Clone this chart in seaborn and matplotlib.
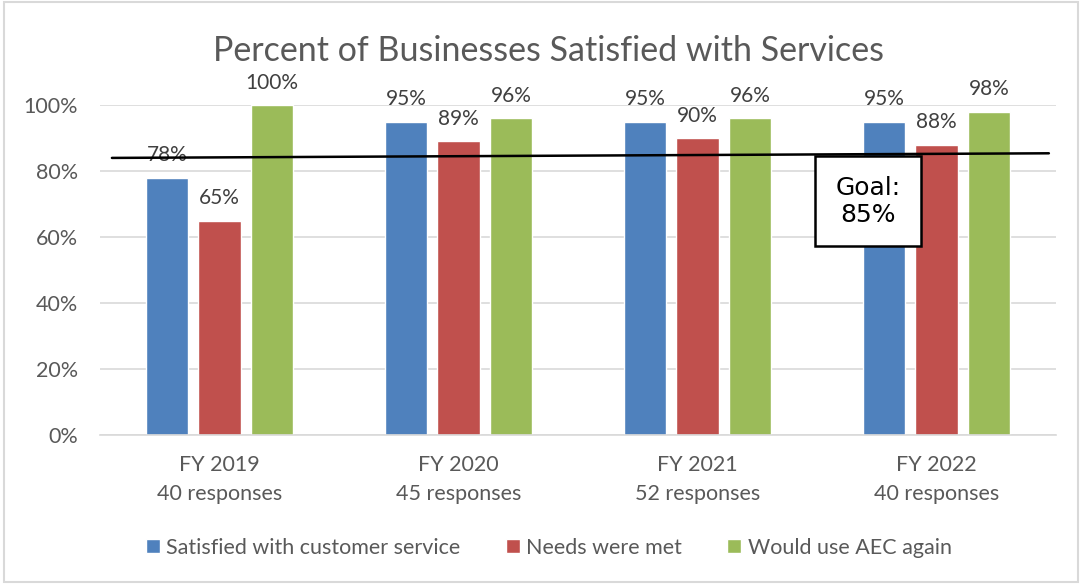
import matplotlib
matplotlib.use("Agg")
import matplotlib.pyplot as plt
import seaborn as sns
import pandas as pd
from matplotlib.patches import Rectangle

years = ["FY 2019\n40 responses", "FY 2020\n45 responses", "FY 2021\n52 responses", "FY 2022\n40 responses"]
series = ["Satisfied with customer service", "Needs were met", "Would use AEC again"]
satisfied = [78, 95, 95, 95]
needs_met = [65, 89, 90, 88]
use_again = [100, 96, 96, 98]
goal_line = [84.0, 85.4]   # drawn goal line, left and right ends (%)
goal_label = "Goal:\n85%"

colors = ["#4F81BD", "#C0504D", "#9BBB59"]

rows = []
for s, vals in zip(series, [satisfied, needs_met, use_again]):
    for y, v in zip(years, vals):
        rows.append({"Year": y, "Series": s, "Value": v / 100})
df = pd.DataFrame(rows)

sns.set_theme(style="white")
plt.rcParams['font.family'] = ['Lato', 'DejaVu Sans']

fig = plt.figure(figsize=(10.82, 5.84), dpi=100)
ax = fig.add_axes([0.0924, 0.255, 0.8836, 0.565])

sns.barplot(data=df, x="Year", y="Value", hue="Series", palette=colors,
            width=0.66, gap=0.2, ax=ax, legend=True, saturation=1)

for cont in ax.containers:
    ax.bar_label(cont, labels=[f"{v*100:.0f}%" for v in cont.datavalues],
                 padding=9, fontsize=15, color="#404040")

ax.set_ylim(0, 1.0)
ax.set_xlim(-0.5, 3.5)
ax.set_yticks([0, 0.2, 0.4, 0.6, 0.8, 1.0])
ax.set_yticklabels(["0%", "20%", "40%", "60%", "80%", "100%"], fontsize=15.5, color="#595959")
ax.tick_params(axis="x", labelsize=15.5, labelcolor="#595959", length=0, pad=14)
ax.tick_params(axis="y", length=0, pad=16)
for lbl in ax.get_xticklabels():
    lbl.set_linespacing(1.6)
ax.grid(axis="y", color="#D9D9D9", linewidth=1.2)
ax.set_axisbelow(True)
for sp in ["top", "right", "left"]:
    ax.spines[sp].set_visible(False)
ax.spines["bottom"].set_color("#D9D9D9")
ax.spines["bottom"].set_linewidth(1.2)
ax.set_xlabel("")
ax.set_ylabel("")

# goal line
ax.plot([-0.45, 3.47], [goal_line[0] / 100, goal_line[1] / 100], color="black", lw=1.8,
        clip_on=False, zorder=5)
# goal annotation box
ax.add_patch(Rectangle((2.49, 0.573), 0.445, 0.272, fc="white", ec="black", lw=1.8, zorder=6))
ax.text(2.7125, 0.709, goal_label, ha="center", va="center", fontsize=18, color="black",
        linespacing=1.15, zorder=7, family=['DejaVu Sans'])

fig.text(0.507, 0.913, "Percent of Businesses Satisfied with Services", fontsize=24.5,
         color="#595959", ha="center", va="center")

leg = ax.legend(loc="center", bbox_to_anchor=(0.507, 0.062), bbox_transform=fig.transFigure,
                ncol=3, frameon=False,
                fontsize=15.5, handlelength=0.65, handleheight=0.65, handletextpad=0.3,
                columnspacing=2.1)
for t in leg.get_texts():
    t.set_color("#595959")

# chart border
fig.patches.append(Rectangle((0.004, 0.004), 0.992, 0.992, transform=fig.transFigure,
                             fill=False, ec="#D9D9D9", lw=1.5))

fig.savefig("out.png", dpi=100)
